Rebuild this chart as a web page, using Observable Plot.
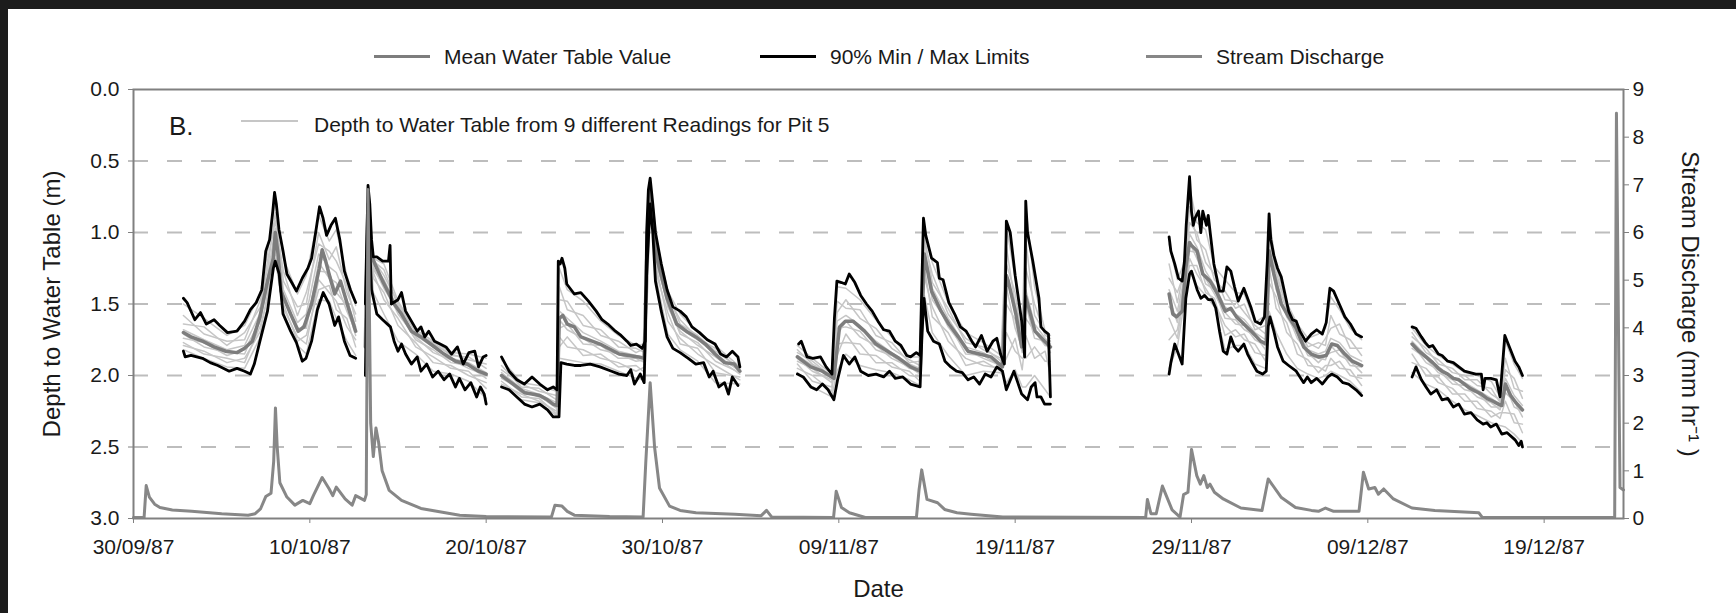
<!DOCTYPE html>
<html><head><meta charset="utf-8">
<script src="https://cdn.jsdelivr.net/npm/d3@7"></script>
<script src="https://cdn.jsdelivr.net/npm/@observablehq/plot@0.6"></script>
<style>
html,body{margin:0;padding:0;background:#1c1c1c;width:1736px;height:613px;overflow:hidden;}
#wrap{position:absolute;left:8px;top:9px;width:1728px;height:604px;background:#fff;font-family:"Liberation Sans",Arial,sans-serif;color:#1a1a1a;}
#chart{position:absolute;left:0;top:60px;}
.lg-line{position:absolute;}
.lg-text{position:absolute;font-size:21px;line-height:24px;white-space:nowrap;}
</style></head><body>
<div id="wrap"><div id="chart"></div><div id="legend"></div></div>
<script>
// ---- data (day offsets from 30/09/1987) ----
const startDate = "1987-09-30";
const endDay = 84.5;
const dateTicks = ["1987-09-30","1987-10-10","1987-10-20","1987-10-30","1987-11-09","1987-11-19","1987-11-29","1987-12-09","1987-12-19"];
const depthTicks = [0, 0.5, 1, 1.5, 2, 2.5, 3];
const gridDepths = [0.5, 1, 1.5, 2, 2.5];
const dischargeTicks = [0,1,2,3,4,5,6,7,8,9];
const dischargeMax = 9, depthMax = 3;

const legendLabels = ["Mean Water Table Value", "90% Min / Max Limits", "Stream Discharge"];
const readingsLabel = "Depth to Water Table from 9 different Readings for Pit 5";
const panelLabel = "B.";
const xLabel = "Date", yLabel = "Depth to Water Table (m)", y2Label = "Stream Discharge (mm hr\u207B\u00B9 )";

const discharge = [[0,0.02],[0.6,0.02],[0.72,0.69],[0.9,0.45],[1.2,0.3],[1.5,0.23],[2.2,0.18],[3.3,0.15],[5,0.1],[6.5,0.07],[6.9,0.1],[7.2,0.2],[7.5,0.46],[7.8,0.53],[7.95,1.2],[8.05,2.32],[8.15,1.5],[8.3,0.75],[8.7,0.45],[9.15,0.28],[9.6,0.38],[10.0,0.31],[10.2,0.48],[10.7,0.86],[11.1,0.62],[11.3,0.48],[11.5,0.66],[12.0,0.41],[12.4,0.28],[12.6,0.48],[13.1,0.38],[13.2,0.5],[13.3,6.9],[13.45,2.0],[13.6,1.3],[13.75,1.9],[13.9,1.6],[14.1,1.0],[14.5,0.59],[15.2,0.38],[16.3,0.21],[18.5,0.07],[20,0.04],[23.7,0.03],[23.9,0.28],[24.3,0.26],[24.6,0.15],[25,0.07],[27,0.04],[28.9,0.03],[29.05,1.16],[29.3,2.85],[29.55,1.5],[29.83,0.64],[30.4,0.26],[31.0,0.17],[31.9,0.12],[34.1,0.09],[35.6,0.06],[35.9,0.17],[36.2,0.03],[39.7,0.02],[39.85,0.57],[40.15,0.23],[40.6,0.12],[41.5,0.02],[44.4,0.02],[44.55,0.6],[44.7,1.02],[45.0,0.4],[45.6,0.33],[46.0,0.19],[46.7,0.12],[47.5,0.09],[49.3,0.03],[57.4,0.02],[57.5,0.4],[57.7,0.1],[58.0,0.1],[58.35,0.68],[58.9,0.18],[59.35,0.03],[59.55,0.5],[59.8,0.55],[60.0,1.45],[60.3,0.9],[60.5,0.72],[60.7,0.9],[60.9,0.65],[61.05,0.72],[61.3,0.55],[61.8,0.41],[62.8,0.22],[64.0,0.17],[64.35,0.83],[65.1,0.44],[65.9,0.23],[66.8,0.17],[67.2,0.15],[67.6,0.22],[68.06,0.15],[69.5,0.15],[69.75,0.97],[70.05,0.62],[70.4,0.65],[70.6,0.51],[70.9,0.62],[71.45,0.41],[72.5,0.22],[73.8,0.17],[76.3,0.12],[76.5,0.02],[84.0,0.02],[84.1,8.5],[84.3,0.65],[84.5,0.6]];

const maxLimit = [[2.83,1.46],[3.04,1.49],[3.48,1.61],[3.8,1.56],[4.13,1.64],[4.57,1.61],[4.89,1.65],[5.33,1.70],[5.87,1.69],[6.3,1.62],[6.63,1.54],[6.96,1.49],[7.28,1.40],[7.5,1.13],[7.72,1.05],[7.9,0.85],[8.0,0.72],[8.1,0.8],[8.25,0.98],[8.48,1.13],[8.7,1.29],[9.02,1.36],[9.24,1.41],[9.57,1.32],[9.89,1.25],[10.1,1.18],[10.33,1.0],[10.55,0.82],[10.75,0.9],[10.95,1.02],[11.2,0.95],[11.45,0.9],[11.7,1.05],[11.96,1.27],[12.3,1.4],[12.6,1.49],
[12.9,null],
[13.15,1.5],[13.22,1.1],[13.3,0.67],[13.4,0.8],[13.5,1.05],[13.6,1.17],[13.8,1.17],[14.13,1.2],[14.46,1.2],[14.55,1.09],[14.62,1.5],[15.0,1.47],[15.2,1.42],[15.43,1.55],[15.76,1.62],[16.09,1.69],[16.3,1.66],[16.52,1.73],[16.74,1.69],[17.07,1.76],[17.39,1.78],[17.72,1.80],[18.04,1.85],[18.37,1.80],[18.7,1.92],[19.02,1.84],[19.35,1.83],[19.57,1.94],[19.83,1.87],[20.0,1.86],
[20.4,null],
[20.87,1.87],[21.3,1.97],[21.74,2.03],[22.17,2.06],[22.6,2.01],[23.04,2.06],[23.48,2.10],[23.8,2.08],[24.02,2.10],[24.09,1.2],[24.2,1.22],[24.3,1.18],[24.46,1.25],[24.57,1.36],[25.0,1.43],[25.37,1.42],[25.8,1.48],[26.24,1.55],[26.57,1.61],[26.9,1.64],[27.33,1.69],[27.65,1.72],[27.98,1.76],[28.2,1.79],[28.52,1.78],[28.85,1.81],[29.02,1.76],[29.1,1.0],[29.2,0.7],[29.3,0.62],[29.45,0.8],[29.6,1.0],[29.93,1.22],[30.26,1.40],[30.59,1.52],[31.0,1.55],[31.35,1.59],[31.67,1.66],[32.1,1.70],[32.54,1.75],[32.98,1.78],[33.3,1.85],[33.63,1.87],[33.96,1.83],[34.28,1.87],[34.39,1.94],
[36,null],
[37.72,1.78],[37.87,1.76],[38.2,1.87],[38.52,1.88],[38.96,1.87],[39.28,1.94],[39.61,1.99],[39.75,1.6],[39.89,1.34],[40.15,1.35],[40.37,1.36],[40.59,1.29],[40.91,1.35],[41.24,1.44],[41.57,1.50],[41.89,1.55],[42.22,1.62],[42.54,1.68],[42.87,1.69],[43.2,1.76],[43.52,1.79],[43.85,1.86],[44.07,1.87],[44.39,1.84],[44.61,1.86],[44.72,1.3],[44.8,0.9],[44.93,1.02],[45.26,1.18],[45.59,1.21],[45.7,1.32],[45.91,1.33],[46.24,1.49],[46.57,1.57],[46.89,1.66],[47.22,1.69],[47.54,1.76],[47.76,1.80],[48.09,1.72],[48.41,1.83],[48.74,1.76],[48.96,1.74],[49.17,1.85],[49.39,1.92],[49.5,0.92],[49.72,1.0],[50.0,1.3],[50.37,1.62],[50.54,1.87],[50.6,0.78],[50.7,1.0],[51.0,1.2],[51.35,1.46],[51.46,1.66],[51.67,1.69],[51.89,1.71],[52.0,2.15],
[55,null],
[58.73,1.03],[58.83,1.13],[59.05,1.22],[59.26,1.32],[59.47,1.34],[59.6,1.2],[59.7,0.95],[59.89,0.61],[60.0,0.85],[60.1,0.95],[60.2,0.9],[60.4,0.85],[60.53,1.0],[60.64,0.85],[60.85,0.95],[60.95,0.88],[61.06,1.0],[61.27,1.22],[61.59,1.41],[61.8,1.41],[62.01,1.24],[62.23,1.27],[62.44,1.38],[62.65,1.48],[62.97,1.39],[63.18,1.46],[63.39,1.53],[63.61,1.62],[63.92,1.64],[64.14,1.59],[64.3,1.2],[64.4,0.87],[64.5,1.05],[64.67,1.16],[64.88,1.25],[65.09,1.31],[65.3,1.43],[65.51,1.55],[65.73,1.61],[65.94,1.62],[66.15,1.69],[66.47,1.76],[66.79,1.71],[67.1,1.68],[67.42,1.71],[67.64,1.63],[67.85,1.39],[68.06,1.41],[68.38,1.50],[68.7,1.59],[69.01,1.64],[69.33,1.71],[69.65,1.73],
[71,null],
[72.51,1.66],[72.73,1.67],[73.04,1.73],[73.26,1.77],[73.47,1.80],[73.68,1.79],[74.0,1.85],[74.21,1.86],[74.53,1.90],[74.85,1.91],[75.16,1.94],[75.48,1.97],[75.8,1.98],[76.12,1.99],[76.44,1.99],[76.54,2.10],[76.65,2.02],[76.97,2.02],[77.29,2.03],[77.5,2.15],[77.77,1.72],[78.03,1.80],[78.35,1.90],[78.56,1.94],[78.77,2.0]];

const minLimit = [[2.83,1.83],[2.93,1.87],[3.26,1.86],[3.91,1.88],[4.35,1.91],[4.78,1.93],[5.43,1.97],[5.87,1.95],[6.3,1.97],[6.63,1.99],[6.85,1.92],[7.17,1.76],[7.6,1.55],[7.93,1.25],[8.04,1.20],[8.26,1.29],[8.48,1.57],[8.91,1.69],[9.24,1.77],[9.57,1.90],[9.78,1.88],[10.1,1.76],[10.43,1.54],[10.76,1.42],[11.09,1.50],[11.41,1.65],[11.63,1.59],[11.96,1.76],[12.28,1.86],[12.6,1.88],
[12.9,null],
[13.15,2.0],[13.22,1.5],[13.3,0.9],[13.4,1.1],[13.5,1.4],[13.8,1.57],[14.13,1.61],[14.57,1.66],[14.78,1.76],[15.0,1.83],[15.2,1.78],[15.43,1.85],[15.76,1.92],[16.09,1.87],[16.3,1.97],[16.63,1.92],[16.96,2.01],[17.28,1.97],[17.61,2.03],[17.93,1.99],[18.26,2.08],[18.48,2.02],[18.8,2.10],[19.13,2.05],[19.46,2.15],[19.67,2.08],[19.89,2.13],[20.0,2.2],
[20.4,null],
[20.87,2.08],[21.3,2.10],[21.74,2.15],[22.17,2.20],[22.6,2.22],[23.04,2.20],[23.48,2.24],[23.8,2.29],[24.13,2.29],[24.24,1.91],[24.57,1.92],[25.0,1.93],[25.37,1.93],[25.9,1.92],[26.46,1.94],[27.11,1.97],[27.54,1.99],[27.98,2.0],[28.2,1.96],[28.41,2.06],[28.74,1.99],[28.96,2.05],[29.1,1.3],[29.3,0.8],[29.45,1.0],[29.6,1.34],[29.93,1.55],[30.26,1.73],[30.59,1.81],[31.0,1.84],[31.46,1.88],[31.89,1.92],[32.33,1.91],[32.65,2.01],[32.87,1.97],[33.2,2.08],[33.52,2.05],[33.74,2.13],[33.96,2.01],[34.28,2.07],
[36,null],
[37.65,1.99],[37.98,2.01],[38.41,2.08],[38.74,2.10],[39.07,2.06],[39.39,2.10],[39.72,2.17],[39.93,2.03],[40.26,1.86],[40.59,1.92],[40.91,1.87],[41.24,1.97],[41.67,2.0],[42.11,1.99],[42.54,2.01],[42.87,1.97],[43.2,2.02],[43.63,2.01],[44.07,2.06],[44.61,2.08],[44.72,1.7],[44.83,1.46],[45.04,1.69],[45.37,1.76],[45.7,1.78],[46.02,1.90],[46.35,1.94],[46.67,1.97],[47.0,1.98],[47.33,2.03],[47.65,2.01],[47.98,2.06],[48.3,1.99],[48.63,2.01],[48.96,1.94],[49.28,1.97],[49.5,2.10],[49.93,1.97],[50.37,2.13],[50.7,2.17],[50.91,2.08],[51.13,2.05],[51.24,2.15],[51.46,2.15],[51.67,2.20],[52.0,2.2],
[55,null],
[58.73,1.99],[58.83,1.91],[59.05,1.78],[59.26,1.85],[59.47,1.92],[59.68,1.46],[59.89,1.29],[60.0,1.27],[60.32,1.40],[60.53,1.46],[60.74,1.44],[60.95,1.47],[61.17,1.47],[61.38,1.53],[61.59,1.69],[61.8,1.83],[62.01,1.85],[62.23,1.73],[62.44,1.80],[62.65,1.83],[62.97,1.78],[63.18,1.85],[63.39,1.90],[63.71,1.97],[64.03,1.99],[64.24,1.97],[64.35,1.66],[64.45,1.59],[64.67,1.69],[64.88,1.80],[65.2,1.90],[65.51,1.93],[65.94,1.97],[66.36,2.05],[66.57,2.01],[66.79,2.05],[67.1,2.02],[67.42,2.06],[67.74,2.01],[67.95,1.99],[68.27,2.01],[68.59,2.05],[68.91,2.06],[69.33,2.10],[69.65,2.14],
[71,null],
[72.51,2.01],[72.73,1.94],[73.04,2.03],[73.3,2.08],[73.57,2.13],[73.9,2.10],[74.21,2.17],[74.53,2.16],[74.85,2.22],[75.16,2.20],[75.48,2.27],[75.85,2.26],[76.2,2.31],[76.54,2.34],[76.75,2.33],[76.97,2.36],[77.29,2.34],[77.6,2.41],[77.9,2.40],[78.35,2.45],[78.56,2.49],[78.7,2.46],[78.77,2.5]];

const meanDepth = [[2.83,1.70],[3.26,1.73],[3.91,1.76],[4.57,1.80],[5.22,1.83],[5.87,1.84],[6.3,1.81],[6.74,1.76],[7.17,1.59],[7.6,1.34],[7.93,1.18],[8.04,1.0],[8.2,1.15],[8.37,1.41],[8.91,1.57],[9.35,1.69],[9.67,1.66],[10.1,1.50],[10.54,1.25],[10.7,1.12],[10.9,1.2],[11.09,1.29],[11.41,1.43],[11.74,1.34],[12.17,1.52],[12.6,1.69],
[12.9,null],
[13.15,1.8],[13.22,1.3],[13.3,0.8],[13.45,1.15],[13.8,1.25],[14.13,1.34],[14.78,1.5],[15.2,1.57],[15.76,1.69],[16.3,1.73],[16.96,1.79],[17.61,1.85],[18.26,1.90],[18.91,1.92],[19.57,1.97],[20.0,1.99],
[20.4,null],
[20.87,2.0],[21.3,2.04],[21.74,2.08],[22.17,2.12],[22.6,2.13],[23.04,2.14],[23.48,2.17],[23.8,2.2],[24.02,2.21],[24.15,1.6],[24.35,1.58],[24.6,1.64],[25.0,1.66],[25.37,1.73],[26.46,1.78],[27.54,1.85],[28.63,1.87],[28.96,1.88],[29.1,1.2],[29.3,0.7],[29.45,0.9],[29.72,1.2],[30.26,1.46],[30.8,1.64],[31.35,1.69],[31.89,1.73],[32.43,1.78],[32.98,1.85],[33.52,1.91],[34.07,1.92],[34.39,1.97],
[36,null],
[37.65,1.87],[38.41,1.94],[39.07,1.97],[39.72,2.02],[40.04,1.66],[40.37,1.62],[40.8,1.62],[41.46,1.69],[42.11,1.78],[42.76,1.83],[43.41,1.88],[44.07,1.94],[44.61,1.97],[44.75,1.5],[44.85,1.15],[45.26,1.41],[45.8,1.55],[46.24,1.64],[46.78,1.73],[47.33,1.83],[47.98,1.85],[48.63,1.87],[49.28,1.94],[49.5,1.3],[49.61,1.34],[50.04,1.57],[50.37,1.80],[50.6,1.45],[51.13,1.69],[51.67,1.76],[52.0,1.80],
[55,null],
[58.73,1.43],[58.94,1.57],[59.15,1.59],[59.47,1.55],[59.68,1.25],[59.89,1.07],[60.0,1.09],[60.32,1.13],[60.64,1.29],[61.06,1.34],[61.48,1.43],[61.91,1.55],[62.23,1.53],[62.55,1.59],[62.97,1.64],[63.39,1.69],[63.92,1.76],[64.24,1.78],[64.4,1.13],[64.67,1.29],[65.09,1.50],[65.51,1.59],[65.94,1.67],[66.36,1.80],[66.79,1.85],[67.21,1.87],[67.64,1.86],[67.95,1.78],[68.27,1.79],[68.7,1.85],[69.12,1.90],[69.65,1.93],
[71,null],
[72.51,1.78],[72.9,1.83],[73.3,1.87],[73.68,1.91],[74.0,1.95],[74.21,1.97],[74.53,1.99],[74.85,2.02],[75.16,2.03],[75.48,2.06],[75.8,2.09],[76.12,2.11],[76.44,2.13],[76.75,2.16],[77.1,2.18],[77.4,2.20],[77.6,2.21],[77.8,2.06],[78.1,2.14],[78.4,2.19],[78.77,2.24]];

// nine individual readings: rows of [day, r1..r9], one array per record segment
const readingsSeg1a = [[2.83,1.50,1.58,1.64,1.68,1.71,1.74,1.77,1.79,1.82],[4.0,1.60,1.71,1.66,1.75,1.80,1.77,1.85,1.83,1.88],[5.3,1.72,1.76,1.79,1.82,1.84,1.86,1.88,1.91,1.94],[6.3,1.65,1.75,1.70,1.79,1.85,1.82,1.91,1.88,1.95],[7.2,1.42,1.47,1.52,1.56,1.59,1.62,1.65,1.69,1.73],[7.6,1.14,1.26,1.20,1.31,1.39,1.35,1.47,1.43,1.52],[8.04,0.78,0.86,0.92,0.97,1.01,1.05,1.09,1.13,1.18],[8.5,1.18,1.34,1.27,1.40,1.47,1.44,1.53,1.50,1.56],[9.3,1.43,1.52,1.58,1.63,1.67,1.70,1.73,1.76,1.79],[9.8,1.30,1.50,1.42,1.57,1.67,1.62,1.78,1.72,1.85],[10.5,0.88,1.0,1.08,1.15,1.21,1.27,1.33,1.40,1.47],[11.1,1.06,1.19,1.13,1.24,1.32,1.28,1.42,1.37,1.48],[11.5,0.98,1.10,1.20,1.28,1.35,1.42,1.48,1.54,1.60],[12.1,1.30,1.42,1.37,1.47,1.55,1.51,1.66,1.60,1.76],[12.6,1.51,1.57,1.62,1.66,1.69,1.72,1.75,1.80,1.86]];
const readingsSeg1b = [[13.15,1.50,1.62,1.70,1.76,1.80,1.85,1.89,1.93,1.97],[13.3,0.69,0.76,0.73,0.78,0.82,0.80,0.86,0.84,0.89],[13.6,1.18,1.19,1.20,1.22,1.24,1.26,1.28,1.32,1.42],[14.2,1.22,1.30,1.26,1.33,1.39,1.36,1.47,1.42,1.57],[15.0,1.48,1.49,1.51,1.53,1.55,1.57,1.60,1.65,1.76],[16.0,1.68,1.70,1.69,1.72,1.75,1.73,1.80,1.77,1.85],[17.0,1.76,1.77,1.78,1.80,1.82,1.84,1.87,1.91,1.97],[18.0,1.84,1.86,1.85,1.88,1.91,1.89,1.95,1.93,1.99],[19.0,1.85,1.87,1.89,1.91,1.93,1.95,1.97,2.00,2.04],[20.0,1.88,1.95,1.92,1.98,2.02,2.00,2.09,2.05,2.16]];
const readingsSeg2 = [[20.87,1.89,1.93,1.96,1.98,2.0,2.02,2.04,2.06,2.07],[22.0,2.05,2.08,2.06,2.09,2.12,2.10,2.15,2.13,2.17],[23.0,2.07,2.09,2.11,2.13,2.14,2.15,2.16,2.18,2.19],[24.0,2.11,2.17,2.14,2.19,2.23,2.21,2.27,2.25,2.28],[24.15,1.25,1.38,1.47,1.55,1.61,1.67,1.73,1.80,1.88],[24.6,1.40,1.54,1.48,1.60,1.68,1.64,1.80,1.73,1.89],[25.5,1.48,1.58,1.65,1.70,1.74,1.78,1.82,1.86,1.91],[26.5,1.62,1.72,1.68,1.76,1.82,1.79,1.88,1.85,1.92],[27.5,1.72,1.76,1.80,1.83,1.85,1.88,1.91,1.94,1.97],[28.5,1.79,1.84,1.81,1.86,1.90,1.88,1.97,1.93,2.02],[29.0,1.78,1.81,1.84,1.87,1.89,1.91,1.94,1.98,2.03],[29.3,0.63,0.65,0.67,0.69,0.70,0.72,0.74,0.76,0.79],[29.7,1.07,1.15,1.11,1.18,1.24,1.21,1.31,1.27,1.36],[30.3,1.41,1.43,1.45,1.47,1.49,1.52,1.56,1.62,1.71],[31.0,1.57,1.64,1.61,1.67,1.71,1.69,1.78,1.74,1.82],[32.0,1.70,1.72,1.74,1.75,1.77,1.79,1.81,1.85,1.90],[33.0,1.79,1.83,1.81,1.85,1.90,1.87,1.98,1.93,2.05],[34.39,1.94,1.95,1.96,1.97,1.98,1.99,2.01,2.03,2.06]];
const readingsSeg3 = [[37.65,1.79,1.82,1.84,1.86,1.88,1.90,1.92,1.95,1.98],[38.5,1.88,1.92,1.90,1.93,1.97,1.95,2.04,2.00,2.08],[39.6,1.99,2.0,2.01,2.02,2.03,2.05,2.08,2.11,2.15],[39.9,1.38,1.56,1.48,1.62,1.72,1.67,1.86,1.78,1.97],[40.4,1.39,1.47,1.53,1.58,1.62,1.66,1.71,1.77,1.85],[41.2,1.47,1.60,1.54,1.65,1.73,1.69,1.85,1.78,1.93],[42.1,1.61,1.67,1.72,1.76,1.79,1.82,1.86,1.91,1.96],[43.0,1.73,1.81,1.77,1.84,1.88,1.86,1.94,1.91,1.98],[44.0,1.87,1.89,1.91,1.92,1.94,1.95,1.97,2.0,2.03],[44.6,1.87,1.93,1.90,1.95,1.99,1.97,2.04,2.01,2.07],[44.85,0.97,1.02,1.07,1.11,1.15,1.19,1.24,1.31,1.44],[45.3,1.21,1.35,1.29,1.39,1.47,1.43,1.59,1.52,1.70],[46.2,1.49,1.53,1.57,1.60,1.63,1.66,1.70,1.76,1.86],[47.2,1.70,1.77,1.74,1.80,1.85,1.82,1.93,1.88,2.0],[48.2,1.77,1.80,1.82,1.84,1.86,1.88,1.90,1.93,1.97],[49.2,1.86,1.90,1.88,1.92,1.94,1.93,1.97,1.95,1.98],[49.5,0.95,1.10,1.22,1.30,1.38,1.50,1.70,1.88,2.05],[50.0,1.32,1.50,1.42,1.56,1.67,1.61,1.83,1.74,1.96],[50.4,1.67,1.72,1.76,1.79,1.81,1.84,1.88,1.96,2.08],[50.6,0.82,1.25,1.05,1.40,1.60,1.50,1.88,1.72,2.08],[51.1,1.38,1.50,1.58,1.64,1.69,1.74,1.80,1.88,2.0],[51.7,1.69,1.72,1.70,1.74,1.79,1.76,1.90,1.83,2.10],[52.0,1.72,1.74,1.76,1.78,1.80,1.84,1.90,2.0,2.15]];
const readingsSeg4 = [[58.73,1.08,1.22,1.32,1.40,1.46,1.52,1.60,1.75,1.95],[59.2,1.33,1.49,1.42,1.55,1.63,1.59,1.74,1.68,1.80],[59.6,1.21,1.25,1.28,1.31,1.34,1.37,1.40,1.44,1.48],[59.89,0.68,0.93,0.82,1.01,1.13,1.07,1.23,1.18,1.27],[60.3,0.93,1.0,1.05,1.10,1.14,1.18,1.23,1.29,1.37],[60.8,0.98,1.21,1.12,1.27,1.36,1.32,1.42,1.39,1.44],[61.3,1.24,1.29,1.33,1.37,1.40,1.43,1.46,1.49,1.52],[61.9,1.33,1.47,1.41,1.52,1.60,1.56,1.72,1.65,1.82],[62.5,1.42,1.48,1.53,1.57,1.61,1.64,1.68,1.73,1.79],[63.0,1.43,1.56,1.50,1.61,1.68,1.65,1.75,1.71,1.79],[63.6,1.63,1.65,1.68,1.70,1.72,1.75,1.78,1.84,1.92],[64.2,1.58,1.71,1.65,1.75,1.82,1.79,1.90,1.86,1.95],[64.4,0.90,0.97,1.02,1.07,1.12,1.17,1.24,1.35,1.55],[64.8,1.24,1.31,1.28,1.34,1.40,1.37,1.53,1.45,1.70],[65.4,1.49,1.50,1.52,1.54,1.56,1.59,1.63,1.70,1.85],[66.0,1.64,1.67,1.65,1.69,1.74,1.71,1.85,1.78,1.95],[66.6,1.74,1.77,1.80,1.82,1.84,1.86,1.89,1.93,1.99],[67.2,1.71,1.81,1.77,1.85,1.91,1.88,1.98,1.94,2.02],[67.6,1.67,1.74,1.79,1.83,1.86,1.89,1.93,1.97,2.0],[67.9,1.45,1.67,1.58,1.74,1.84,1.79,1.93,1.88,1.97],[68.4,1.54,1.64,1.71,1.77,1.82,1.86,1.90,1.95,2.0],[69.0,1.67,1.81,1.75,1.86,1.93,1.90,2.0,1.96,2.04],[69.65,1.75,1.81,1.86,1.90,1.94,1.98,2.02,2.07,2.12]];
const readingsSeg5 = [[72.51,1.67,1.70,1.73,1.76,1.78,1.81,1.85,1.91,1.98],[73.3,1.79,1.84,1.81,1.86,1.91,1.88,2.0,1.95,2.06],[74.0,1.86,1.89,1.92,1.94,1.96,1.98,2.01,2.05,2.10],[74.8,1.92,1.98,1.95,2.01,2.06,2.03,2.13,2.09,2.18],[75.5,1.98,2.0,2.03,2.05,2.07,2.10,2.13,2.18,2.24],[76.2,2.0,2.07,2.03,2.10,2.15,2.12,2.23,2.18,2.28],[77.0,2.04,2.09,2.13,2.16,2.19,2.22,2.25,2.29,2.33],[77.5,2.15,2.19,2.17,2.20,2.24,2.22,2.30,2.26,2.35],[77.8,1.76,1.88,1.96,2.02,2.07,2.12,2.18,2.26,2.36],[78.3,1.92,2.09,2.02,2.14,2.22,2.18,2.33,2.27,2.41],[78.77,2.02,2.11,2.16,2.21,2.25,2.29,2.34,2.40,2.47]];

// ---- build ----
const t0 = new Date(startDate).getTime();
const toDate = d => new Date(t0 + d * 864e5);
const readingSegments = [readingsSeg1a, readingsSeg1b, readingsSeg2, readingsSeg3, readingsSeg4, readingsSeg5];
const readingLong = [];
readingSegments.forEach((seg, si) => seg.forEach(row => row.slice(1).forEach((v, k) =>
  readingLong.push({date: toDate(row[0]), depth: v, key: si + "-" + k}))));
const toDepth = q => depthMax - q * depthMax / dischargeMax;
const fromDepth = v => Math.round((depthMax - v) * dischargeMax / depthMax);

const COL = {mean: "#7d7d7d", limit: "#000000", discharge: "#878787", reading: "#c6c6c6", grid: "#bdbdbd", axis: "#808080", text: "#1a1a1a"};
const font = "'Liberation Sans', Arial, sans-serif";

const chart = Plot.plot({
  width: 1728, height: 544,
  marginLeft: 125, marginRight: 113, marginTop: 20, marginBottom: 95,
  style: {fontSize: "21px", fontFamily: font, color: COL.text, background: "transparent", overflow: "visible"},
  x: {type: "utc", domain: [toDate(0), toDate(endDay)]},
  y: {domain: [0, depthMax], reverse: true},
  marks: [
    Plot.ruleY(gridDepths, {stroke: COL.grid, strokeWidth: 2, strokeDasharray: "15,19"}),
    Plot.line(readingLong, {x: "date", y: "depth", z: "key", stroke: COL.reading, strokeWidth: 1.5}),
    Plot.line(meanDepth, {x: d => toDate(d[0]), y: d => d[1], stroke: COL.mean, strokeWidth: 3.5}),
    Plot.line(maxLimit, {x: d => toDate(d[0]), y: d => d[1], stroke: COL.limit, strokeWidth: 2.8}),
    Plot.line(minLimit, {x: d => toDate(d[0]), y: d => d[1], stroke: COL.limit, strokeWidth: 2.8}),
    Plot.line(discharge, {x: d => toDate(d[0]), y: d => toDepth(d[1]), stroke: COL.discharge, strokeWidth: 3}),
    Plot.frame({stroke: COL.axis, strokeWidth: 2}),
    Plot.axisX({ticks: dateTicks.map(s => new Date(s)), tickFormat: d3.utcFormat("%d/%m/%y"), tickSize: 5, tickPadding: 16, stroke: COL.axis, fill: COL.text, label: null}),
    Plot.axisY({anchor: "left", ticks: depthTicks, tickFormat: d3.format(".1f"), tickSize: 5, tickPadding: 9, stroke: COL.axis, fill: COL.text, label: null}),
    Plot.axisY({anchor: "right", ticks: dischargeTicks.map(toDepth), tickFormat: fromDepth, tickSize: 5, tickPadding: 4, stroke: COL.axis, fill: COL.text, label: null}),
    Plot.text([yLabel], {text: d => d, frameAnchor: "left", textAnchor: "middle", dx: -81, rotate: -90, fill: COL.text, fontSize: 24}),
    Plot.text([y2Label], {text: d => d, frameAnchor: "right", textAnchor: "middle", dx: 66, rotate: 90, fill: COL.text, fontSize: 24}),
    Plot.text([xLabel], {text: d => d, frameAnchor: "bottom", dy: 78, fill: COL.text, fontSize: 24})
  ]
});
document.getElementById("chart").appendChild(chart);

// ---- legends (HTML) ----
const lg = document.getElementById("legend");
function addLine(left, top, width, h, color) {
  const e = document.createElement("div"); e.className = "lg-line";
  Object.assign(e.style, {left: left + "px", top: (top - h / 2) + "px", width: width + "px", height: h + "px", background: color});
  lg.appendChild(e);
}
function addText(left, cy, txt, size) {
  const e = document.createElement("div"); e.className = "lg-text"; e.textContent = txt;
  const lh = size + 6;
  Object.assign(e.style, {left: left + "px", top: (cy - lh / 2) + "px", fontSize: size + "px", lineHeight: lh + "px"});
  lg.appendChild(e);
}
const legendColors = [COL.mean, COL.limit, COL.discharge];
const legendX = [366, 752, 1138];
legendLabels.forEach((lab, i) => {
  addLine(legendX[i], 47, 56, 3, legendColors[i]);
  addText(legendX[i] + 70, 47, lab, 21);
});
addText(161, 117, panelLabel, 26);
addLine(233, 112, 57, 2, COL.reading);
addText(306, 115, readingsLabel, 21);
</script>
</body></html>
